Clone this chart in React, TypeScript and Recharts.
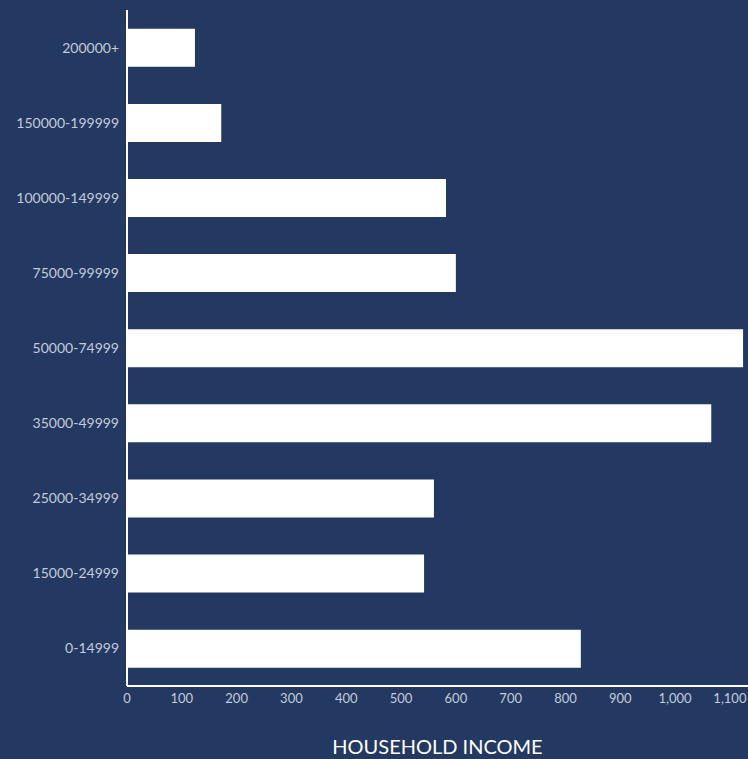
import React from 'react';
import { BarChart, Bar, XAxis, YAxis, Label } from 'recharts';

const categories = [
  '200000+',
  '150000-199999',
  '100000-149999',
  '75000-99999',
  '50000-74999',
  '35000-49999',
  '25000-34999',
  '15000-24999',
  '0-14999',
];
const households = [124, 172, 582, 600, 1124, 1066, 560, 542, 828];
const xTicks = [0, 100, 200, 300, 400, 500, 600, 700, 800, 900, 1000, 1100];

const data = categories.map((c, i) => ({ bracket: c, count: households[i] }));

const BG = '#243961';
const FONT = 'Lato, "Open Sans", sans-serif';

const App: React.FC = () => {
  return (
    <div style={{ position: 'absolute', left: 0, top: 0, width: 748, height: 759, background: BG, fontFamily: FONT }}>
      <BarChart
        width={748}
        height={759}
        data={data}
        layout="vertical"
        margin={{ top: 10, right: 0, bottom: 4, left: 0 }}
        barCategoryGap="25%"
      >
        <XAxis
          type="number"
          dataKey="count"
          domain={[0, 1133]}
          ticks={xTicks}
          interval={0}
          tickFormatter={(v) => v.toLocaleString('en-US')}
          stroke="#ffffff"
          strokeWidth={2}
          tickLine={false}
          tick={{ fill: '#c3cbdb', fontSize: 13, fontFamily: FONT }}
          height={69}
        >
          <Label
            value="HOUSEHOLD INCOME"
            position="insideBottom"
            offset={1}
            fill="#ffffff"
            fontSize={20}
            fontFamily={FONT}
          />
        </XAxis>
        <YAxis
          type="category"
          dataKey="bracket"
          width={127}
          stroke="#ffffff"
          strokeWidth={2}
          tickLine={false}
          tick={{ fill: '#c3cbdb', fontSize: 14, fontFamily: FONT }}
        />
        <Bar dataKey="count" fill="#ffffff" isAnimationActive={false} />
      </BarChart>
    </div>
  );
};

export default App;
